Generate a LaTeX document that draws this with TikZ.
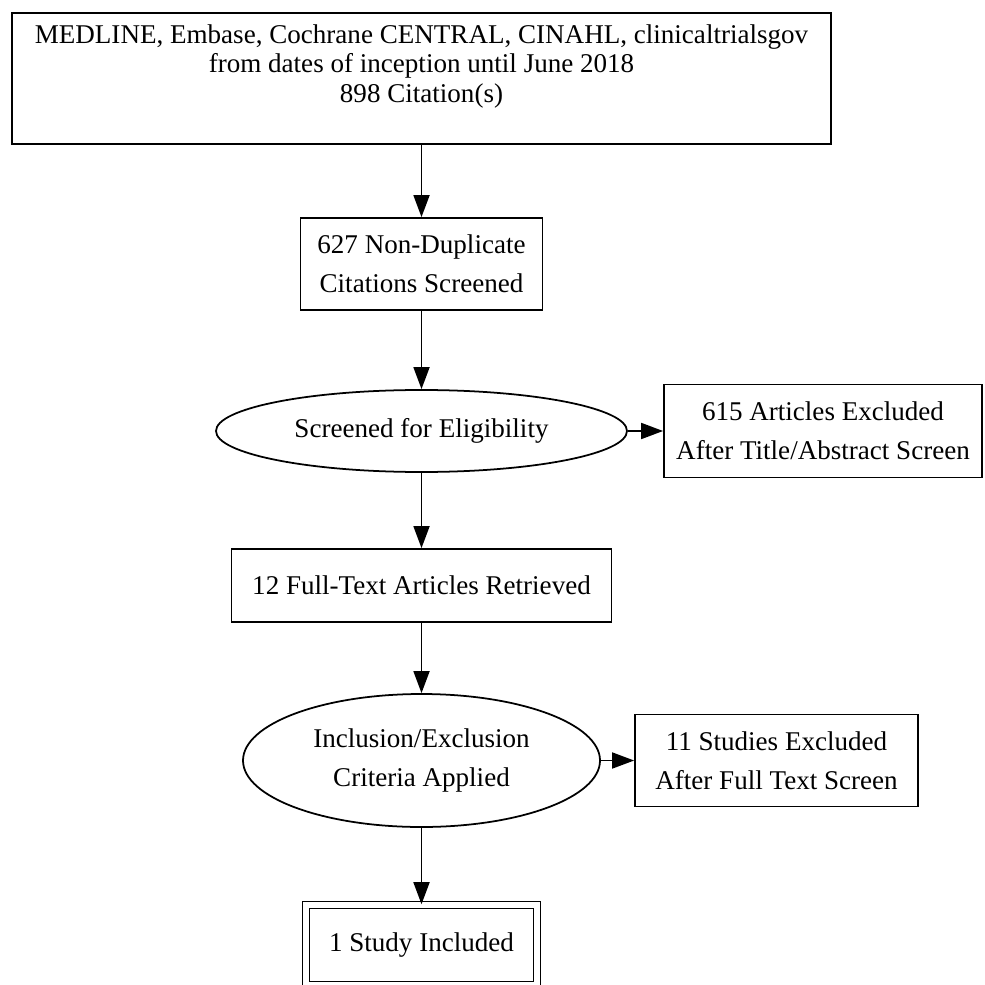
\documentclass[tikz,border=0pt]{standalone}
\usepackage{fontspec}
\setmainfont{Liberation Serif}
\usepackage{tikz}
\usetikzlibrary{shapes.geometric,arrows.meta}

\begin{document}
\begin{tikzpicture}[
  flowbox/.style={rectangle, draw=black, line width=1pt, minimum width=#1, inner sep=2pt, align=center, font=\fontsize{15.4}{22}\selectfont},
  flowbox/.default=4cm,
  ovalnode/.style={ellipse, draw=black, line width=1pt, inner sep=0pt, align=center, font=\fontsize{15.4}{22}\selectfont},
  finalbox/.style={rectangle, draw=black, double=white, double distance=0.11cm, line width=0.9pt, minimum width=4.62cm, minimum height=1.60cm, align=center, font=\fontsize{15.4}{22}\selectfont},
  link/.style={draw=black, line width=1pt, -{Triangle[length=0.44cm, width=0.32cm]}}
]
  \useasboundingbox (0,0) rectangle (19.68,-19.70);
  \node[flowbox=16.38cm, minimum height=2.62cm, font=\fontsize{15.4}{17}\selectfont] (search) at (8.43,-1.57)
    {MEDLINE, Embase, Cochrane CENTRAL, CINAHL, clinicaltrialsgov\\from dates of inception until June 2018\\898 Citation(s)\\{}};
  \node[flowbox=4.84cm, minimum height=1.84cm] (dedup) at (8.43,-5.28) {627 Non-Duplicate\\Citations Screened};
  \node[ovalnode, minimum width=8.22cm, minimum height=1.64cm] (eligible) at (8.43,-8.62) {Screened for Eligibility};
  \node[flowbox=6.36cm, minimum height=1.86cm] (excltitle) at (16.46,-8.62) {615 Articles Excluded\\After Title/Abstract Screen};
  \node[flowbox=7.60cm, minimum height=1.46cm] (fulltext) at (8.43,-11.71) {12 Full-Text Articles Retrieved};
  \node[ovalnode, minimum width=7.14cm, minimum height=2.66cm] (criteria) at (8.43,-15.21) {Inclusion/Exclusion\\Criteria Applied};
  \node[flowbox=5.66cm, minimum height=1.84cm] (exclfull) at (15.53,-15.21) {11 Studies Excluded\\After Full Text Screen};
  \node[finalbox] (included) at (8.43,-18.90) {1 Study Included};

  \draw[link] (search) -- (dedup);
  \draw[link] (dedup) -- (eligible);
  \draw[link] (eligible) -- (excltitle);
  \draw[link] (eligible) -- (fulltext);
  \draw[link] (fulltext) -- (criteria);
  \draw[link] (criteria) -- (exclfull);
  \draw[link] (criteria) -- (included);
\end{tikzpicture}
\end{document}
